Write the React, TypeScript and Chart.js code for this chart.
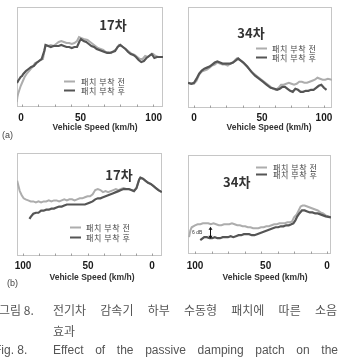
import React, { useEffect, useRef } from 'react';
import { Chart, registerables } from 'chart.js';

Chart.register(...registerables);

type Pt = [number, number];

// ---------- text ----------
const LABEL_BEFORE = '패치 부착 전';
const LABEL_AFTER = '패치 부착 후';
const X_TITLE = 'Vehicle Speed (km/h)';
const TITLE_17 = '17차';
const TITLE_34 = '34차';
const GAP_LABEL = '6 dB';

// tick labels and where they sit along each sweep axis (the original axes are not uniform in speed)
const TICK_LABELS_ACC = ['0', '50', '100'];
const TICK_LABELS_DEC = ['100', '50', '0'];
const TICKS_A17 = [-0.8, 44.7, 100.5];
const TICKS_A34 = [0, 52.3, 100];
const TICKS_B17 = [100, 49.6, 0];
const TICKS_B34 = [100, 46.5, 0];
const MINOR_TICKS = [0, 12.5, 25, 37.5, 50, 62.5, 75, 87.5, 100];

// ---------- data: [sweep position ~ speed km/h, level] ----------
// (a) acceleration, 17th order
const A17_BEFORE: Pt[] = [
  [-4, 5], [-3.5, 10], [-3, 13], [-2, 17], [-1, 21], [0, 24], [1, 27], [2, 30], [4, 34], [6, 37],
  [8, 40], [10, 44], [12, 45], [14, 47], [16, 48], [17, 55], [18, 62], [20, 61], [22, 62], [24, 61],
  [26, 63], [28, 65], [30, 66], [32, 65], [34, 64], [36, 64], [38, 63], [40, 64], [42, 66], [43.5, 70],
  [45, 69], [47, 68], [50, 67], [52, 65], [54, 63], [56, 61], [58, 59], [60, 58], [62, 57], [64, 55],
  [66, 55], [68, 54], [70, 56], [72, 58], [74, 62], [76, 61], [78, 59], [80, 57], [82, 55], [84, 53],
  [86, 52], [88, 50], [90, 48], [92, 48], [94, 51], [96, 50], [98, 52], [100, 53], [102, 51], [104, 50],
  [107.6, 50],
];
const A17_AFTER: Pt[] = [
  [-3.8, 24], [-3, 26], [-2, 28], [-1, 30], [0, 31], [1, 33], [3, 36], [5, 38], [7, 40], [9, 41],
  [11, 44], [13, 46], [15, 48], [17, 56], [18, 62], [20, 61], [22, 60], [24, 61], [26, 61], [28, 61],
  [30, 62], [32, 61], [34, 60], [36, 60], [38, 59], [40, 60], [42, 60], [44, 66], [45, 68], [47, 66],
  [49, 65], [51, 63], [53, 61], [55, 60], [57, 58], [59, 57], [61, 56], [63, 55], [65, 54], [67, 54],
  [69, 55], [71, 56], [73, 60], [75, 62], [77, 60], [79, 58], [81, 55], [83, 53], [85, 52], [87, 50],
  [89, 47], [91, 45], [93, 46], [95, 49], [97, 51], [99, 53], [101, 49], [103, 50], [107.6, 50],
];
// (a) acceleration, 34th order
const A34_BEFORE: Pt[] = [
  [-4.6, 25], [-2, 24], [0, 24], [2, 27], [4, 33], [6, 36], [8, 37], [10, 38], [12, 40], [14, 42],
  [16, 43], [18, 45], [20, 44], [22, 43], [24, 43], [26, 42], [28, 44], [30, 45], [32, 48], [33, 49],
  [35, 48], [37, 46], [40, 42], [43, 38], [46, 34], [49, 31], [52, 28], [55, 25], [58, 22], [61, 19],
  [63, 18], [65, 20], [67, 23], [69, 23], [71, 24], [73, 25], [75, 24], [77, 23], [79, 24], [81, 26],
  [83, 26], [85, 25], [87, 25], [89, 26], [91, 27], [93, 28], [95, 30], [97, 29], [99, 28], [101, 28],
  [103, 29], [106.2, 28],
];
const A34_AFTER: Pt[] = [
  [-4.6, 25], [-2, 24], [0, 25], [2, 29], [4, 34], [6, 37], [8, 39], [10, 40], [12, 41], [14, 43],
  [16, 45], [18, 46], [20, 45], [22, 44], [24, 44], [26, 44], [28, 44], [30, 45], [32, 47], [34, 49],
  [36, 47], [38, 45], [41, 41], [44, 36], [47, 32], [50, 29], [53, 26], [56, 23], [59, 20], [62, 19],
  [64, 18], [66, 19], [68, 21], [70, 21], [72, 19], [74, 17], [76, 16], [78, 19], [80, 18], [82, 16],
  [84, 16], [86, 17], [88, 17], [90, 18], [92, 18], [94, 20], [96, 22], [98, 23], [100, 20], [102, 18],
];
// (b) deceleration, 17th order
const B17_BEFORE: Pt[] = [
  [104.5, 73], [103.5, 68], [102.5, 63], [101, 59], [99.5, 56], [98, 55], [96, 54], [94, 53], [92, 53], [90, 52],
  [88, 53], [86, 52], [84, 53], [82, 53], [80, 54], [78, 53], [76, 54], [74, 54], [72, 53], [70, 54],
  [68, 55], [66, 54], [64, 55], [62, 55], [60, 54], [58, 55], [56, 56], [54, 56], [52, 57], [50, 58],
  [48, 58], [46, 60], [44, 64], [42, 65], [40, 64], [38, 62], [36, 63], [34, 62], [32, 63], [30, 64],
  [28, 65], [26, 64], [24, 65], [22, 66], [20, 65], [18, 65], [16, 64], [14, 63], [12, 66], [10, 74],
  [9, 76], [7, 75], [5, 73], [3, 71], [1, 70], [-1, 68], [-3, 66], [-5, 64], [-7.7, 62],
];
const B17_AFTER: Pt[] = [
  [95, 36], [94, 38], [92, 41], [90, 42], [88, 42], [86, 44], [84, 44], [82, 45], [80, 45], [78, 46],
  [76, 46], [74, 47], [72, 48], [70, 48], [68, 49], [66, 50], [64, 50], [62, 50], [60, 50], [58, 50],
  [56, 50], [54, 50], [52, 50], [50, 51], [48, 52], [46, 53], [44, 55], [42, 56], [40, 56], [38, 57],
  [36, 58], [34, 59], [32, 60], [30, 61], [28, 62], [26, 63], [24, 64], [22, 65], [20, 65], [18, 65],
  [16, 64], [14, 63], [12, 66], [10, 74], [9, 76], [7, 75], [5, 73], [3, 71], [1, 70], [-1, 68],
  [-3, 66], [-5, 64], [-7.7, 62],
];
// (b) deceleration, 34th order
const B34_BEFORE: Pt[] = [
  [104.5, 17], [103.5, 24], [102.5, 27], [100, 29], [98, 30], [96, 30], [94, 31], [92, 31], [90, 31], [88, 30],
  [86, 31], [84, 30], [82, 29], [80, 29], [78, 30], [76, 30], [74, 30], [72, 31], [70, 30], [68, 29],
  [66, 29], [64, 28], [62, 28], [60, 27], [58, 27], [56, 26], [54, 26], [52, 26], [50, 27], [48, 27],
  [46, 28], [44, 28], [42, 29], [40, 30], [38, 30], [36, 31], [34, 31], [32, 31], [30, 32], [28, 32],
  [26.5, 33], [25, 37], [23, 40], [21.5, 44], [20, 48], [18.5, 49], [17, 49], [15, 48], [13, 47], [11, 46],
  [9, 45], [7, 44], [5, 42], [3, 41], [1, 39], [-1, 38], [-3, 37],
];
const B34_AFTER: Pt[] = [
  [96, 14], [95, 15], [93, 17], [91, 17], [89, 16], [87, 16], [85, 17], [83, 16], [81, 16], [79, 17],
  [77, 17], [75, 17], [73, 18], [71, 17], [69, 18], [67, 19], [65, 19], [63, 20], [61, 20], [59, 20],
  [57, 19], [55, 19], [53, 20], [51, 21], [49, 22], [47, 23], [45, 24], [43, 25], [41, 26], [39, 27],
  [37, 27], [35, 28], [33, 28], [31, 29], [29, 29], [27, 30], [25.5, 31], [24, 34], [22.5, 38], [21, 41],
  [19, 44], [17, 44], [15, 43], [13, 42], [11, 42], [9, 41], [7, 41], [5, 40], [3, 39], [1, 38],
  [-1, 37.5], [-3, 37],
];
// 6 dB gap marker: [position, upper level, lower level]
const B34_GAP: number[] = [88.6, 27.5, 15.5];

const COLOR_BEFORE = '#adadad';
const COLOR_AFTER = '#555555';

const decorPlugin = {
  id: 'decor',
  beforeDatasetsDraw(chart: any, _args: any, o: any) {
    const { ctx, chartArea: a } = chart;
    ctx.save();
    ctx.strokeStyle = '#c6c6c6';
    ctx.lineWidth = 1;
    ctx.strokeRect(a.left + 0.5, a.top + 0.5, a.right - a.left - 1, a.bottom - a.top - 1);
    const xs = chart.scales.x;
    ctx.strokeStyle = '#a0a0a0';
    (o.minor || []).forEach((v: number) => {
      const px = Math.round(xs.getPixelForValue(v)) + 0.5;
      if (px <= a.left + 1 || px >= a.right - 1) return;
      ctx.beginPath();
      ctx.moveTo(px, a.bottom);
      ctx.lineTo(px, a.bottom - 2.5);
      ctx.stroke();
    });
    ctx.restore();
  },
  afterDatasetsDraw(chart: any, _args: any, o: any) {
    const { ctx, chartArea: a } = chart;
    ctx.save();
    // axis title
    ctx.fillStyle = '#333';
    ctx.font = 'bold 8.5px "Liberation Sans", Arial, sans-serif';
    ctx.textAlign = 'center';
    ctx.textBaseline = 'middle';
    ctx.fillText(o.xTitle, (a.left + a.right) / 2 + o.xTitleDx, a.bottom + o.xTitleDy);
    // panel title
    ctx.fillStyle = '#333';
    ctx.font = 'bold 13px "Noto Sans CJK KR", sans-serif';
    ctx.fillText(o.title, a.left + o.titleX, a.top + o.titleY);
    // legend
    ctx.font = '8px "Noto Sans CJK KR", sans-serif';
    try { (ctx as any).letterSpacing = '0.6px'; } catch (e) { /* ignore */ }
    ctx.textAlign = 'left';
    chart.data.datasets.forEach((ds: any, i: number) => {
      const y = Math.round(a.top + o.legY + i * o.legGap) + 0.5;
      const x = a.left + o.legX;
      ctx.strokeStyle = ds.borderColor;
      ctx.lineWidth = 2;
      ctx.beginPath();
      ctx.moveTo(x, y);
      ctx.lineTo(x + 11, y);
      ctx.stroke();
      ctx.fillStyle = '#444';
      ctx.fillText(ds.label, x + o.textGap, y);
    });
    try { (ctx as any).letterSpacing = '0px'; } catch (e) { /* ignore */ }
    // gap marker
    if (o.gap) {
      const xs = chart.scales.x;
      const ys = chart.scales.y;
      const px = Math.round(xs.getPixelForValue(o.gap[0])) + 0.5;
      const y1 = ys.getPixelForValue(o.gap[1]);
      const y2 = ys.getPixelForValue(o.gap[2]);
      ctx.strokeStyle = '#111';
      ctx.fillStyle = '#111';
      ctx.lineWidth = 1;
      ctx.beginPath();
      ctx.moveTo(px, y1 + 2);
      ctx.lineTo(px, y2 - 2);
      ctx.stroke();
      ctx.beginPath();
      ctx.moveTo(px, y1);
      ctx.lineTo(px - 2, y1 + 3);
      ctx.lineTo(px + 2, y1 + 3);
      ctx.closePath();
      ctx.fill();
      ctx.beginPath();
      ctx.moveTo(px, y2);
      ctx.lineTo(px - 2, y2 - 3);
      ctx.lineTo(px + 2, y2 - 3);
      ctx.closePath();
      ctx.fill();
      ctx.font = '5px "Liberation Sans", sans-serif';
      ctx.fillStyle = '#333';
      ctx.textAlign = 'left';
      ctx.fillText(o.gapLabel, a.left + 4, (y1 + y2) / 2);
    }
    ctx.restore();
  },
};

type PanelCfg = {
  left: number; top: number; width: number; height: number;
  pad: { left: number; right: number; top: number };
  axisH: number; tickPad: number; xTitleDx: number; xTitleDy: number;
  xMin: number; xMax: number; reverse: boolean;
  ticks: number[]; tickLabels: string[];
  before: Pt[]; after: Pt[];
  title: string; titleX: number; titleY: number;
  legX: number; legY: number; legGap: number; textGap: number;
  gap?: number[];
};

function Panel({ cfg }: { cfg: PanelCfg }) {
  const ref = useRef<HTMLCanvasElement>(null);
  useEffect(() => {
    if (!ref.current) return;
    const chart = new Chart(ref.current, {
      type: 'line',
      data: {
        datasets: [
          {
            label: LABEL_BEFORE,
            data: cfg.before.map(([x, y]) => ({ x, y })),
            borderColor: COLOR_BEFORE,
            borderWidth: 2,
            pointRadius: 0,
            tension: 0,
            order: 1,
          },
          {
            label: LABEL_AFTER,
            data: cfg.after.map(([x, y]) => ({ x, y })),
            borderColor: COLOR_AFTER,
            borderWidth: 2.2,
            pointRadius: 0,
            tension: 0,
            order: 0,
          },
        ],
      },
      options: {
        animation: false,
        responsive: false,
        maintainAspectRatio: false,
        events: [],
        layout: { padding: { left: cfg.pad.left, right: cfg.pad.right, top: cfg.pad.top, bottom: 0 } },
        plugins: {
          legend: { display: false },
          tooltip: { enabled: false },
          decor: {
            title: cfg.title, titleX: cfg.titleX, titleY: cfg.titleY,
            legX: cfg.legX, legY: cfg.legY, legGap: cfg.legGap, textGap: cfg.textGap,
            gap: cfg.gap, gapLabel: GAP_LABEL, minor: MINOR_TICKS,
            xTitle: X_TITLE, xTitleDx: cfg.xTitleDx, xTitleDy: cfg.xTitleDy,
          },
        } as any,
        scales: {
          x: {
            type: 'linear',
            min: cfg.xMin,
            max: cfg.xMax,
            reverse: cfg.reverse,
            grid: { display: false, drawTicks: false },
            border: { display: false },
            afterBuildTicks: (s: any) => {
              s.ticks = cfg.ticks.map((v) => ({ value: v }));
            },
            ticks: {
              autoSkip: false,
              maxRotation: 0,
              padding: cfg.tickPad,
              color: '#1a1a1a',
              font: { family: '"Liberation Sans", Arial, sans-serif', size: 10, weight: 'bold' },
              callback: (_v: any, i: number) => cfg.tickLabels[i] ?? '',
            },
            title: { display: false },
            afterFit: (s: any) => { s.height = cfg.axisH; },
          } as any,
          y: { display: false, min: 0, max: 100 },
        },
      },
      plugins: [decorPlugin as any],
    });
    return () => chart.destroy();
  }, [cfg]);
  return (
    <canvas
      ref={ref}
      width={cfg.width}
      height={cfg.height}
      style={{ position: 'absolute', left: cfg.left, top: cfg.top, width: cfg.width, height: cfg.height }}
    />
  );
}

const PANELS: PanelCfg[] = [
  {
    left: 0, top: 0, width: 170, height: 136,
    pad: { left: 17, right: 7, top: 7 }, axisH: 29, tickPad: 5, xTitleDx: 5, xTitleDy: 21,
    xMin: -3.8, xMax: 107.6, reverse: false,
    ticks: TICKS_A17, tickLabels: TICK_LABELS_ACC,
    before: A17_BEFORE, after: A17_AFTER,
    title: TITLE_17, titleX: 96, titleY: 18,
    legX: 47, legY: 73.5, legGap: 9, textGap: 17,
  },
  {
    left: 170, top: 0, width: 170, height: 136,
    pad: { left: 18, right: 8, top: 7 }, axisH: 28, tickPad: 4, xTitleDx: 9, xTitleDy: 20,
    xMin: -4.6, xMax: 106.2, reverse: false,
    ticks: TICKS_A34, tickLabels: TICK_LABELS_ACC,
    before: A34_BEFORE, after: A34_AFTER,
    title: TITLE_34, titleX: 63, titleY: 26,
    legX: 68, legY: 40.7, legGap: 9, textGap: 16,
  },
  {
    left: 0, top: 140, width: 170, height: 146,
    pad: { left: 17, right: 8, top: 13 }, axisH: 30, tickPad: 4, xTitleDx: 2.5, xTitleDy: 22,
    xMin: -7.75, xMax: 104.65, reverse: true,
    ticks: TICKS_B17, tickLabels: TICK_LABELS_DEC,
    before: B17_BEFORE, after: B17_AFTER,
    title: TITLE_17, titleX: 102, titleY: 22,
    legX: 53, legY: 74.3, legGap: 9.4, textGap: 16,
  },
  {
    left: 170, top: 140, width: 170, height: 146,
    pad: { left: 18, right: 9, top: 15 }, axisH: 32, tickPad: 6, xTitleDx: 5.5, xTitleDy: 24,
    xMin: -3.0, xMax: 105.3, reverse: true,
    ticks: TICKS_B34, tickLabels: TICK_LABELS_DEC,
    before: B34_BEFORE, after: B34_AFTER,
    title: TITLE_34, titleX: 48.7, titleY: 26.7,
    legX: 68, legY: 11.7, legGap: 7.6, textGap: 17,
    gap: B34_GAP,
  },
];

const CAPTION_KO_LABEL = '그림 8.';
const CAPTION_KO_LINE1 = '전기차 감속기 하부 수동형 패치에 따른 소음';
const CAPTION_KO_LINE2 = '효과';
const CAPTION_EN_LABEL = 'Fig. 8.';
const CAPTION_EN_LINE1 = 'Effect of the passive damping patch on the';

export default function App() {
  const ko: React.CSSProperties = {
    position: 'absolute',
    fontFamily: '"Noto Sans CJK KR", sans-serif',
    fontSize: 12,
    lineHeight: '18px',
    color: '#555',
    whiteSpace: 'nowrap',
  };
  const en: React.CSSProperties = {
    ...ko,
    fontFamily: '"Liberation Sans", Arial, sans-serif',
    fontSize: 12,
  };
  const just: React.CSSProperties = { textAlign: 'justify', textAlignLast: 'justify' as any, whiteSpace: 'normal' };
  const panelLabel: React.CSSProperties = {
    position: 'absolute',
    fontFamily: '"Liberation Sans", Arial, sans-serif',
    fontSize: 9,
    lineHeight: '10px',
    color: '#444',
  };
  return (
    <div style={{ position: 'fixed', left: 0, top: 0, width: 340, height: 358, background: '#fff', overflow: 'hidden' }}>
      {PANELS.map((p, i) => (
        <Panel key={i} cfg={p} />
      ))}
      <div style={{ ...panelLabel, left: 2, top: 130 }}>(a)</div>
      <div style={{ ...panelLabel, left: 7, top: 278 }}>(b)</div>
      <div style={{ ...ko, left: -1, top: 301 }}>{CAPTION_KO_LABEL}</div>
      <div style={{ ...ko, ...just, left: 53, top: 301, width: 284 }}>{CAPTION_KO_LINE1}</div>
      <div style={{ ...ko, left: 53, top: 322 }}>{CAPTION_KO_LINE2}</div>
      <div style={{ ...en, left: -6, top: 341 }}>{CAPTION_EN_LABEL}</div>
      <div style={{ ...en, ...just, left: 53, top: 341, width: 285 }}>{CAPTION_EN_LINE1}</div>
    </div>
  );
}
